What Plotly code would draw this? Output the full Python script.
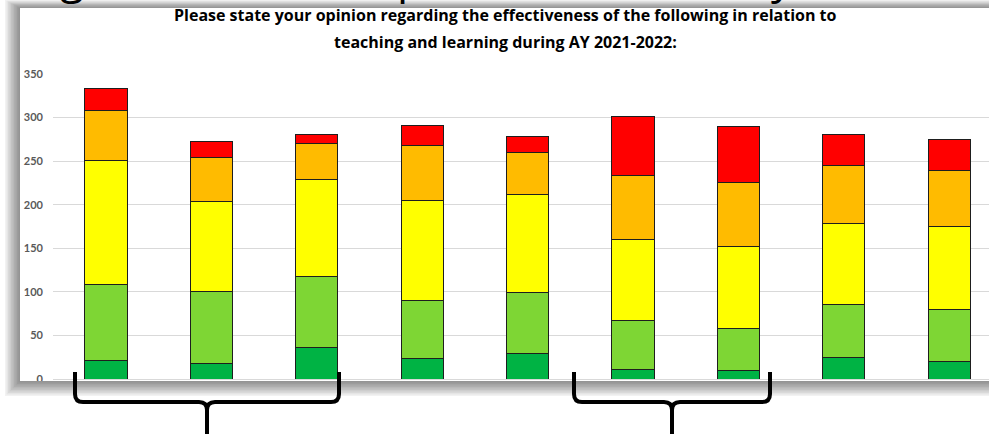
import plotly.graph_objects as go

# Survey responses per item, stacked from most to least favourable
items = list(range(9))
very_effective = [21, 18, 36, 24, 29, 11, 10, 25, 20]
effective = [88, 82, 82, 66, 70, 56, 48, 61, 60]
neutral = [142, 104, 111, 115, 113, 93, 94, 93, 95]
ineffective = [57, 50, 41, 63, 48, 74, 73, 66, 64]
very_ineffective = [25, 18, 11, 23, 18, 67, 65, 36, 36]

series_names = ["Very effective", "Effective", "Neutral", "Ineffective", "Very ineffective"]
series_colors = ["#00B344", "#7ED634", "#FFFF00", "#FFBB00", "#FF0000"]
y_ticks = [0, 50, 100, 150, 200, 250, 300, 350]

title_line1 = "Please state your opinion regarding the effectiveness of the following in relation to"
title_line2 = "teaching and learning during AY 2021-2022:"

W, H = 989, 434
ML, MR, MT, MB = 53, 0, 74, 55
PW = W - ML - MR
PH = H - MT - MB


def px(x):
    return (x - ML) / PW


def py(y):
    return (H - MB - y) / PH


fig = go.Figure()
for vals, name, col in zip(
    [very_effective, effective, neutral, ineffective, very_ineffective],
    series_names,
    series_colors,
):
    fig.add_trace(
        go.Bar(
            x=items,
            y=vals,
            name=name,
            width=0.4,
            marker=dict(color=col, line=dict(color="#1e1e1e", width=1)),
        )
    )

shapes = []
# soft drop shadow behind the chart panel
for k in range(1, 11):
    shapes.append(dict(
        type="rect", xref="paper", yref="paper", layer="below",
        x0=px(20 - 1.5 * k), x1=px(1100), y0=py(8 - 0.8 * k), y1=py(381 + 1.5 * k),
        fillcolor="rgba(0,0,0,0.05)", line=dict(width=0),
    ))
# white chart panel
shapes.append(dict(
    type="rect", xref="paper", yref="paper", layer="below",
    x0=px(20), x1=px(1100), y0=py(8), y1=py(381),
    fillcolor="white", line=dict(width=0),
))
# page area under the panel (hides the lower part of the axis labels)
shapes.append(dict(
    type="rect", xref="paper", yref="paper", layer="above",
    x0=px(-20), x1=px(1100), y0=py(381), y1=py(460),
    fillcolor="white", line=dict(width=0),
))
for k in range(1, 11):
    shapes.append(dict(
        type="rect", xref="paper", yref="paper", layer="above",
        x0=px(20 - 1.5 * k), x1=px(1100), y0=py(381), y1=py(381 + 1.5 * k),
        fillcolor="rgba(0,0,0,0.05)", line=dict(width=0),
    ))


def brace(xl, xc, xr, ytop=372, ybar=402, ybot=445, r=8):
    path = (
        f"M {px(xl)},{py(ytop)} L {px(xl)},{py(ybar - r)} "
        f"Q {px(xl)},{py(ybar)} {px(xl + r)},{py(ybar)} "
        f"L {px(xc - r)},{py(ybar)} Q {px(xc)},{py(ybar)} {px(xc)},{py(ybar + r)} "
        f"L {px(xc)},{py(ybot)} "
        f"M {px(xc)},{py(ybar + r)} Q {px(xc)},{py(ybar)} {px(xc + r)},{py(ybar)} "
        f"L {px(xr - r)},{py(ybar)} Q {px(xr)},{py(ybar)} {px(xr)},{py(ybar - r)} "
        f"L {px(xr)},{py(ytop)}"
    )
    return dict(type="path", xref="paper", yref="paper", layer="above", path=path,
                line=dict(color="black", width=4))


shapes.append(brace(75, 207, 339))
shapes.append(brace(574, 672, 770))

title_font = dict(family="Open Sans", size=16, color="black", weight="bold")
annotations = [
    dict(text=title_line1, xref="paper", yref="paper", x=px(505), y=py(15),
         xanchor="center", yanchor="middle", showarrow=False, font=title_font),
    dict(text=title_line2, xref="paper", yref="paper", x=px(505), y=py(42),
         xanchor="center", yanchor="middle", showarrow=False, font=title_font),
]
# heading glyphs above the panel, mostly outside the page
for ch, xc in [("g", 72), ("p", 410), ("y", 782)]:
    annotations.append(dict(
        text=ch, xref="paper", yref="paper", x=px(xc), y=py(7.5),
        xanchor="center", yanchor="bottom", showarrow=False,
        font=dict(family="Open Sans", size=44, color="black"),
    ))

fig.update_layout(
    width=W, height=H,
    margin=dict(l=ML, r=MR, t=MT, b=MB, pad=0),
    barmode="stack",
    showlegend=False,
    paper_bgcolor="white",
    plot_bgcolor="rgba(0,0,0,0)",
    shapes=shapes,
    annotations=annotations,
    xaxis=dict(range=[-0.503, 8.377], showticklabels=False, showgrid=False,
               zeroline=False, showline=False, fixedrange=True),
    yaxis=dict(range=[0, 350], tickvals=y_ticks, showgrid=True, gridcolor="#d9d9d9",
               gridwidth=1, zeroline=True, zerolinecolor="#d9d9d9", zerolinewidth=1,
               showline=False, ticks="", ticklabelstandoff=9,
               tickfont=dict(family="Lato", size=11, color="#595959", weight="bold"),
               fixedrange=True),
)

fig.write_html("out.html", config={"displayModeBar": False})
